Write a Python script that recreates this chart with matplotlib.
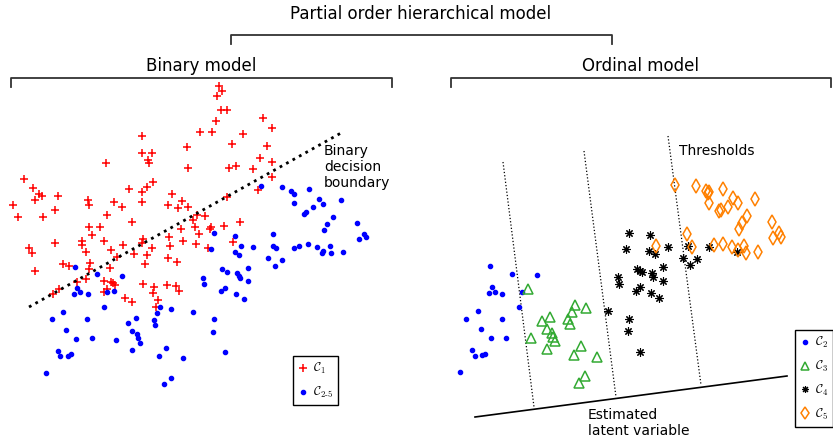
import matplotlib.pyplot as plt
from matplotlib.lines import Line2D

plt.rcParams['mathtext.fontset'] = 'cm'

# Binary model: class C1 (red crosses) and classes C2-5 (blue dots), in picture pixels
c1_x = [219, 222, 217, 221, 227, 216, 263, 272, 200, 212, 243, 142, 232, 267, 187, 142, 152, 260, 148, 149,
        106, 272, 229, 236, 188, 253, 272, 24, 153, 147, 129, 33, 258, 39, 42, 58, 142, 172, 227, 35,
        88, 89, 182, 114, 142, 13, 168, 122, 178, 188, 55, 107, 18, 43, 197, 205, 193, 195, 132, 89,
        100, 211, 210, 224, 240, 181, 92, 199, 169, 143, 142, 104, 82, 82, 29, 32, 55, 123, 152, 170,
        183, 196, 208, 233, 86, 111, 147, 134, 117, 168, 177, 63, 69, 90, 145, 35, 110, 89, 77, 86,
        104, 111, 115, 113, 107, 104, 143, 154, 153, 167, 176, 179, 59, 53, 125, 132, 158, 156]
c1_y = [86, 91, 96, 110, 110, 121, 118, 128, 132, 132, 134, 136, 144, 146, 147, 153, 153, 158, 160, 163,
        163, 162, 168, 166, 168, 169, 177, 179, 182, 187, 189, 188, 190, 194, 196, 196, 192, 194, 197, 200,
        200, 205, 201, 202, 202, 205, 205, 207, 208, 207, 210, 215, 217, 217, 215, 216, 220, 227, 222, 227,
        227, 227, 229, 226, 222, 229, 235, 234, 237, 239, 243, 241, 241, 245, 248, 253, 243, 245, 248, 246,
        241, 244, 248, 242, 252, 250, 255, 254, 257, 258, 262, 264, 266, 263, 264, 271, 268, 269, 282, 279,
        281, 282, 285, 283, 289, 292, 284, 287, 293, 285, 286, 291, 289, 294, 298, 302, 300, 307]

c25_x = [261, 282, 291, 294, 309, 294, 319, 323, 341, 313, 306, 304, 333, 327, 324, 357, 364, 366, 359, 214,
         235, 273, 241, 253, 273, 276, 294, 299, 308, 317, 323, 330, 322, 331, 343, 211, 235, 239, 268, 282,
         275, 248, 75, 222, 227, 237, 239, 240, 97, 122, 203, 204, 248, 221, 225, 236, 244, 77, 74, 80,
         88, 107, 114, 104, 63, 52, 87, 66, 76, 92, 58, 60, 68, 71, 46, 116, 128, 136, 132, 137,
         138, 140, 132, 157, 160, 154, 155, 171, 166, 159, 183, 164, 171, 193, 214, 213, 225]
c25_y = [186, 187, 191, 194, 189, 203, 199, 204, 200, 207, 212, 214, 217, 224, 230, 223, 234, 237, 239, 233,
         236, 234, 246, 247, 246, 248, 248, 246, 244, 247, 251, 246, 253, 253, 252, 249, 252, 255, 258, 260,
         266, 268, 267, 269, 272, 273, 276, 278, 274, 276, 278, 284, 281, 291, 288, 294, 299, 288, 294, 292,
         294, 292, 291, 307, 312, 319, 319, 330, 339, 338, 351, 356, 356, 354, 373, 340, 323, 318, 331, 334,
         338, 343, 350, 313, 307, 320, 325, 309, 348, 356, 358, 384, 378, 312, 319, 332, 352]

# Ordinal model: classes C2..C5
c2_x = [490, 512, 537, 492, 489, 495, 502, 522, 519, 478, 502, 466, 481, 491, 506, 472, 475, 482, 485, 460]
c2_y = [266, 274, 275, 287, 293, 292, 294, 292, 307, 311, 319, 319, 329, 338, 338, 350, 356, 355, 354, 372]

c3_x = [528, 575, 586, 572, 550, 542, 568, 570, 547, 552, 553, 555, 531, 547, 581, 574, 597, 585, 579]
c3_y = [289, 305, 308, 312, 317, 321, 319, 324, 329, 333, 337, 341, 338, 349, 346, 355, 357, 376, 383]

c4_x = [629, 650, 626, 649, 655, 668, 688, 709, 737, 683, 697, 690, 663, 637, 640, 642, 652, 653, 618, 619,
        663, 640, 636, 651, 659, 608, 629, 628, 640]
c4_y = [233, 235, 249, 251, 254, 247, 246, 247, 252, 258, 259, 265, 267, 269, 271, 272, 273, 277, 277, 284,
        281, 287, 291, 293, 298, 311, 319, 331, 352]

c5_x = [675, 696, 706, 708, 709, 723, 709, 733, 738, 755, 728, 719, 721, 747, 742, 739, 772, 773, 779, 781,
        687, 656, 692, 714, 723, 732, 744, 738, 746, 758]
c5_y = [185, 186, 191, 193, 192, 189, 203, 198, 203, 199, 207, 211, 210, 216, 223, 229, 222, 238, 233, 237,
        234, 246, 247, 245, 244, 247, 246, 250, 253, 252]

# Lines: decision boundary, thresholds and the latent axis
boundary_x = [29, 341]
boundary_y = [307, 133]
thresholds = [((503, 534), (162, 407)), ((584, 616), (151, 397)), ((668, 701), (136, 385))]
latent_x = [475, 787]
latent_y = [417, 376]

blue = '#0000ff'
green = '#33aa33'
orange = '#ff8000'

fig = plt.figure(figsize=(8.33, 4.41), dpi=100)
ax = fig.add_axes([0, 0, 1, 1])
ax.set_xlim(0, 833)
ax.set_ylim(441, 0)
ax.axis('off')

# Brackets and titles
bc = '#333333'
ax.plot([231, 231, 612, 612], [44, 35, 35, 44], color=bc, lw=1.3)
ax.plot([11, 11, 392, 392], [87, 78, 78, 87], color=bc, lw=1.3)
ax.plot([451, 451, 831, 831], [87, 78, 78, 87], color=bc, lw=1.3)
ax.text(421, 14, 'Partial order hierarchical model', ha='center', va='center', fontsize=12)
ax.text(201, 66, 'Binary model', ha='center', va='center', fontsize=12)
ax.text(641, 66, 'Ordinal model', ha='center', va='center', fontsize=12)

# Binary model
ax.plot(c1_x, c1_y, '+', color='red', ms=6, mew=1.1, ls='none')
ax.plot(c25_x, c25_y, 'o', color=blue, ms=3, ls='none')
ax.plot(boundary_x, boundary_y, color='black', lw=2, ls=':')
ax.text(324, 144, 'Binary\ndecision\nboundary', ha='left', va='top', fontsize=10, linespacing=1.2)

# Ordinal model
for tx, ty in thresholds:
    ax.plot(tx, ty, color='black', lw=0.9, ls=':')
ax.plot(latent_x, latent_y, color='black', lw=1.2)
ax.plot(c2_x, c2_y, 'o', color=blue, ms=3, ls='none')
ax.plot(c3_x, c3_y, '^', mfc='none', mec=green, ms=7, mew=1.1, ls='none')
ax.plot(c4_x, c4_y, marker=(8, 2, 0), color='black', ms=6, mew=0.8, ls='none')
ax.plot(c5_x, c5_y, 'd', mfc='none', mec=orange, ms=7, mew=1.1, ls='none')
ax.text(679, 151, 'Thresholds', ha='left', va='center', fontsize=10)
ax.text(588, 423, 'Estimated\nlatent variable', ha='left', va='center', fontsize=10, linespacing=1.2)

# Legends
h1 = [Line2D([], [], marker='+', color='red', ls='none', ms=6, mew=1.1),
      Line2D([], [], marker='o', color=blue, ls='none', ms=3)]
leg1 = ax.legend(h1, [r'$\mathcal{C}_1$', r'$\mathcal{C}_{2\text{-}5}$'],
                 loc='upper left', bbox_to_anchor=(293 / 833, 1 - 356 / 441),
                 fontsize=9, fancybox=False, framealpha=1, edgecolor='black',
                 handlelength=0.8, handletextpad=0.4, labelspacing=0.7, borderpad=0.4,
                 borderaxespad=0)
leg1.get_frame().set_linewidth(1.0)
ax.add_artist(leg1)

h2 = [Line2D([], [], marker='o', color=blue, ls='none', ms=3),
      Line2D([], [], marker='^', mfc='none', mec=green, ls='none', ms=6, mew=1.1),
      Line2D([], [], marker=(8, 2, 0), color='black', ls='none', ms=5, mew=0.8),
      Line2D([], [], marker='d', mfc='none', mec=orange, ls='none', ms=6, mew=1.1)]
leg2 = ax.legend(h2, [r'$\mathcal{C}_2$', r'$\mathcal{C}_3$', r'$\mathcal{C}_4$', r'$\mathcal{C}_5$'],
                 loc='upper left', bbox_to_anchor=(795 / 833, 1 - 330 / 441),
                 fontsize=9, fancybox=False, framealpha=1, edgecolor='black',
                 handlelength=0.8, handletextpad=0.4, labelspacing=0.7, borderpad=0.4,
                 borderaxespad=0)
leg2.get_frame().set_linewidth(1.0)

fig.savefig('out.png', dpi=100)
